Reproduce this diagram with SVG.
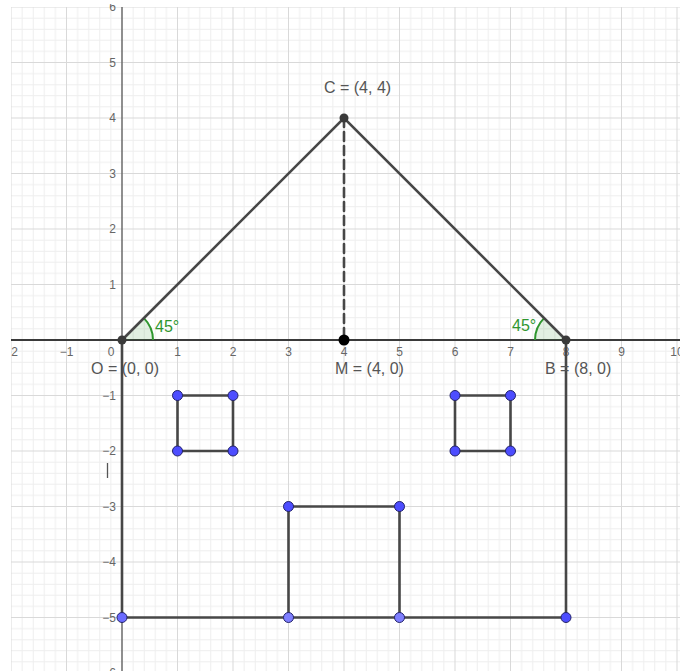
<svg xmlns="http://www.w3.org/2000/svg" width="680" height="671" viewBox="0 0 680 671">
<style>
.seg{stroke:#474747;stroke-width:2.6;fill:none;stroke-linecap:round}
.lbl{font-family:"Liberation Sans",Arial,sans-serif;font-size:16px;fill:#555}
.ax{font-family:"Liberation Sans",Arial,sans-serif;font-size:12px;fill:#666}
.ang{font-family:"Liberation Sans",Arial,sans-serif;font-size:16px;fill:#2f962f}
.pt{fill:#3a3a3a}
.bp{stroke:#22226a;stroke-width:1}
</style>
<defs>
<pattern id="minor" patternUnits="userSpaceOnUse" x="122" y="340" width="55.5" height="55.5">
<path d="M11.1 0V55.5M22.2 0V55.5M33.3 0V55.5M44.4 0V55.5M0 11.1H55.5M0 22.2H55.5M0 33.3H55.5M0 44.4H55.5" stroke="#eeeeee" stroke-width="1"/>
</pattern>
<clipPath id="gclip"><rect x="11" y="7" width="669" height="664"/></clipPath>
<clipPath id="lclip"><rect x="11" y="4" width="669" height="667"/></clipPath>
</defs>
<rect width="680" height="671" fill="#fff"/>
<g id="grid" clip-path="url(#gclip)">
<rect x="11" y="7" width="669" height="664" fill="url(#minor)"/>
<path d="M11 7V671M66.5 7V671M177.5 7V671M233 7V671M288.5 7V671M344 7V671M399.5 7V671M455 7V671M510.5 7V671M566 7V671M621.5 7V671M677 7V671M11 7H680M11 62.5H680M11 118H680M11 173.5H680M11 229H680M11 284.5H680M11 395.5H680M11 451H680M11 506.5H680M11 562H680M11 617.5H680" stroke="#d9d9d9" stroke-width="1"/>
<path d="M122 7V671" stroke="#6a6a6a" stroke-width="1.5"/>
<path d="M11 340H680" stroke="#3a3a3a" stroke-width="2"/>
</g>
<g id="axis-labels" clip-path="url(#lclip)">
<g class="ax" text-anchor="middle">
<text x="11" y="356">−2</text>
<text x="66.5" y="356">−1</text>
<text x="111" y="356">0</text>
<text x="177.5" y="356">1</text>
<text x="233" y="356">2</text>
<text x="288.5" y="356">3</text>
<text x="344" y="356">4</text>
<text x="399.5" y="356">5</text>
<text x="455" y="356">6</text>
<text x="510.5" y="356">7</text>
<text x="566" y="356">8</text>
<text x="621.5" y="356">9</text>
<text x="677" y="356">10</text>
</g>
<g class="ax" text-anchor="end">
<text x="116" y="11">6</text>
<text x="116" y="67">5</text>
<text x="116" y="122">4</text>
<text x="116" y="178">3</text>
<text x="116" y="233">2</text>
<text x="116" y="289">1</text>
<text x="116" y="400">−1</text>
<text x="116" y="455">−2</text>
<text x="116" y="511">−3</text>
<text x="116" y="566">−4</text>
<text x="116" y="622">−5</text>
<text x="116" y="677">−6</text>
</g>
</g>
<line x1="107.5" y1="463" x2="107.5" y2="478" stroke="#555" stroke-width="1.3"/>
<g id="angles">
<path d="M122 340L153 340A31 31 0 0 0 143.9 318.1Z" fill="#2f962f" fill-opacity="0.14"/>
<path d="M153 340A31 31 0 0 0 143.9 318.1" fill="none" stroke="#2f962f" stroke-width="2"/>
<path d="M566 340L535 340A31 31 0 0 1 544.1 318.1Z" fill="#2f962f" fill-opacity="0.14"/>
<path d="M535 340A31 31 0 0 1 544.1 318.1" fill="none" stroke="#2f962f" stroke-width="2"/>
<text class="ang" x="155" y="332">45°</text>
<text class="ang" x="512" y="331">45°</text>
</g>
<g id="connectors">
<path class="seg" d="M122 340L344 118L566 340"/>
<path class="seg" d="M344 118V340" stroke-dasharray="9 5" stroke-linecap="butt"/>
<path class="seg" d="M122 340V617.5H566V340"/>
<path class="seg" d="M177.5 395.5H233V451H177.5Z"/>
<path class="seg" d="M455 395.5H510.5V451H455Z"/>
<path class="seg" d="M288.5 617.5V506.5H399.5V617.5"/>
</g>
<g id="node-O"><circle class="pt" cx="122" cy="340" r="4.5"/><text class="lbl" x="91" y="374">O = (0, 0)</text></g>
<g id="node-C"><circle class="pt" cx="344" cy="118" r="4.5"/><text class="lbl" x="324" y="93">C = (4, 4)</text></g>
<g id="node-M"><circle cx="344" cy="340" r="5.5" fill="#000"/><text class="lbl" x="335" y="374">M = (4, 0)</text></g>
<g id="node-B"><circle class="pt" cx="566" cy="340" r="4.5"/><text class="lbl" x="545" y="374">B = (8, 0)</text></g>
<g id="window-left">
<circle class="bp" cx="177.5" cy="395.5" r="5" fill="#4d4dff"/>
<circle class="bp" cx="233" cy="395.5" r="5" fill="#4d4dff"/>
<circle class="bp" cx="233" cy="451" r="5" fill="#4d4dff"/>
<circle class="bp" cx="177.5" cy="451" r="5" fill="#4d4dff"/>
</g>
<g id="window-right">
<circle class="bp" cx="455" cy="395.5" r="5" fill="#4d4dff"/>
<circle class="bp" cx="510.5" cy="395.5" r="5" fill="#4d4dff"/>
<circle class="bp" cx="510.5" cy="451" r="5" fill="#4d4dff"/>
<circle class="bp" cx="455" cy="451" r="5" fill="#4d4dff"/>
</g>
<g id="door">
<circle class="bp" cx="288.5" cy="506.5" r="5" fill="#4d4dff"/>
<circle class="bp" cx="399.5" cy="506.5" r="5" fill="#4d4dff"/>
<circle class="bp" cx="288.5" cy="617.5" r="5" fill="#7f7fff"/>
<circle class="bp" cx="399.5" cy="617.5" r="5" fill="#7f7fff"/>
</g>
<g id="base-corners">
<circle class="bp" cx="122" cy="617.5" r="5" fill="#6b6bff"/>
<circle class="bp" cx="566" cy="617.5" r="5" fill="#4d4dff"/>
</g>
</svg>
